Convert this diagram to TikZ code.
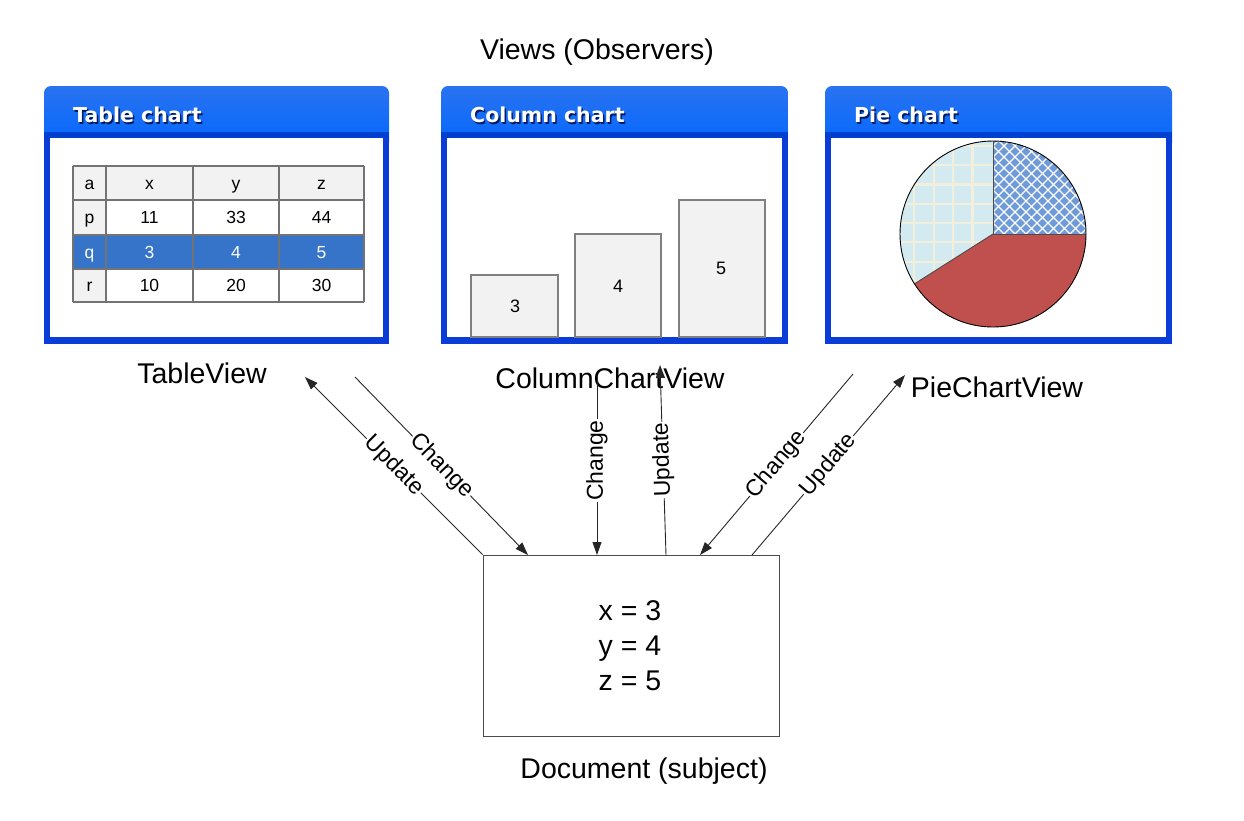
\documentclass[tikz,border=0pt]{standalone}
\usepackage{fontspec}
\setmainfont{Liberation Sans}
\newfontfamily\hdrfont{DejaVu Sans}
\usetikzlibrary{arrows.meta}
\definecolor{hdrA}{HTML}{2A72F0}
\definecolor{hdrB}{HTML}{0068FF}
\definecolor{hdrC}{HTML}{0040D0}
\definecolor{frameblue}{HTML}{0A3CD8}
\definecolor{cellgray}{HTML}{F2F2F2}
\definecolor{selblue}{HTML}{3574C8}
\definecolor{piered}{HTML}{C0504D}
\definecolor{pieblue}{HTML}{6E9AD8}
\definecolor{pielight}{HTML}{D3EBF0}
\definecolor{piegrid}{HTML}{F2F0DC}
\definecolor{hdrshadow}{HTML}{001A66}
\tikzset{
 big/.style={font=\fontsize{28.5}{35}\selectfont, inner sep=0pt},
 lbl/.style={font=\fontsize{23}{26}\selectfont, fill=white, inner sep=1pt},
 cell/.style={font=\fontsize{17.5}{20}\selectfont, inner sep=0pt, text height=12.5pt, text depth=0pt},
 barlbl/.style={font=\fontsize{18}{20}\selectfont, inner sep=0pt},
 hdr/.style={font=\hdrfont\bfseries\fontsize{20.5}{24}\selectfont, inner sep=0pt, anchor=west},
 arr/.style={draw=black!85, line width=0.9pt, -{Triangle[length=13pt,width=9pt]}},
 bar/.style={fill=cellgray, draw=black!50, line width=1.2pt},
 gridln/.style={draw=black!55, line width=1.1pt},
}
\newcommand\viewwin[4]{%
 \shade[top color=hdrA, bottom color=hdrB, rounded corners=7pt] (#1,86) rectangle (#2,150);
 \fill[hdrC] (#1,132) rectangle (#2,139);
 \fill[frameblue] (#1,138) rectangle (#2,344);
 \fill[white] (#1+6,138) rectangle (#2-6,337);
 \node[hdr, text=hdrshadow] (#4s) at (#1+30.5,116.5) {#3};
 \node[hdr, text=white] (#4) at (#1+29,115) {#3};
}
\begin{document}
\begin{tikzpicture}[x=1pt,y=-1pt]
\useasboundingbox (0,0) rectangle (1244,820);

\node[big] (views) at (597,52) {Views (Observers)};

\viewwin{44}{389}{Table chart}{h1}
\viewwin{441}{788}{Column chart}{h2}
\viewwin{825}{1172}{Pie chart}{h3}

% table
\fill[cellgray] (73,166) rectangle (364,200);
\fill[cellgray] (73,200) rectangle (106,302);
\fill[selblue] (73,235) rectangle (364,269);
\foreach \cx in {73,106,193,279,364} \draw[gridln] (\cx,166) -- (\cx,302);
\foreach \ry in {166,200,235,269,302} \draw[gridln] (73,\ry) -- (364,\ry);
\foreach \t [count=\i] in {a,x,y,z,p,11,33,44,q,3,4,5,r,10,20,30}{
  \pgfmathtruncatemacro\rr{int((\i-1)/4)}
  \pgfmathtruncatemacro\cc{mod(\i-1,4)}
  \pgfmathsetmacro\px{{89.5,149.5,236,321.5}[\cc]}
  \pgfmathsetmacro\py{{183,217.5,252,285.5}[\rr]}
  \ifnum\rr=2
    \node[cell, text=white] (t\i) at (\px,\py) {\t};
  \else
    \node[cell] (t\i) at (\px,\py) {\t};
  \fi
}

% column chart
\draw[bar] (471,275) rectangle (558,337);
\draw[bar] (575,234) rectangle (661,337);
\draw[bar] (679,200) rectangle (765,337);
\node[barlbl] (b3) at (515,306) {3};
\node[barlbl] (b4) at (618,286) {4};
\node[barlbl] (b5) at (721,268) {5};

% pie chart
\begin{scope}[shift={(993,234)}, y=1pt]
 \fill[pieblue] (0,0) -- (0:93) arc[start angle=0,end angle=90,radius=93pt] -- cycle;
 \begin{scope}
  \clip (0,0) -- (0:93) arc[start angle=0,end angle=90,radius=93pt] -- cycle;
  \foreach \c in {-198,-187,...,198}{
    \draw[white, line width=1.2pt] (\c-100,-100) -- (\c+100,100);
    \draw[white, line width=1.2pt] (\c-100,100) -- (\c+100,-100);
  }
 \end{scope}
 \fill[pielight] (0,0) -- (90:93) arc[start angle=90,end angle=212.4,radius=93pt] -- cycle;
 \begin{scope}
  \clip (0,0) -- (90:93) arc[start angle=90,end angle=212.4,radius=93pt] -- cycle;
  \foreach \k in {0,...,4} \draw[piegrid, line width=2.2pt] (-20.5-19.4*\k,-100) -- (-20.5-19.4*\k,100);
  \foreach \k in {-5,...,4} \draw[piegrid, line width=2.2pt] (-100,11+19.3*\k) -- (10,11+19.3*\k);
 \end{scope}
 \fill[piered] (0,0) -- (212.4:93) arc[start angle=212.4,end angle=360,radius=93pt] -- cycle;
 \draw[black!70, line width=0.9pt] (90:93) -- (0,0) -- (0:93);
 \draw[black!70, line width=0.9pt] (0,0) -- (212.4:93);
 \draw[black, line width=0.9pt] (0,0) circle[radius=93pt];
\end{scope}

% view labels
\node[big] (tv) at (202,373) {TableView};
\node[big] (ccv) at (610,378) {ColumnChartView};
\node[big] (pcv) at (997,387) {PieChartView};

% document
\node[draw=black!70, line width=0.9pt, minimum width=296pt, minimum height=181pt, inner sep=0pt] (doc) at (631,645.5) {};
\node[big, align=left] (vals) at (630,646) {x = 3\\y = 4\\z = 5};
\node[big] (doclbl) at (644,771) {Document (subject)};

% connector ends
\coordinate (tvU) at (305,377);
\coordinate (tvC) at (355,377);
\coordinate (dC1) at (528,555);
\coordinate (ccC) at (597,377);
\coordinate (dC2) at (597,555);
\coordinate (dU2) at (666,555);
\coordinate (ccU) at (660,365);
\coordinate (pcC) at (853,374);
\coordinate (dC3) at (700,555);
\coordinate (dU3) at (752,555);
\coordinate (pcU) at (905,375);

\draw[arr] (doc.north west) -- node[lbl, rotate=-45] (l1) {Update} (tvU);
\draw[arr] (tvC) -- node[lbl, rotate=-45.8] (l2) {Change} (dC1);
\draw[arr] (ccC) -- node[lbl, pos=0.47, rotate=90] (l3) {Change} (dC2);
\draw[arr] (dU2) -- node[lbl, rotate=91.8] (l4) {Update} (ccU);
\draw[arr] (pcC) -- node[lbl, rotate=49.8] (l5) {Change} (dC3);
\draw[arr] (dU3) -- node[lbl, rotate=49.6] (l6) {Update} (pcU);
\end{tikzpicture}
\end{document}
